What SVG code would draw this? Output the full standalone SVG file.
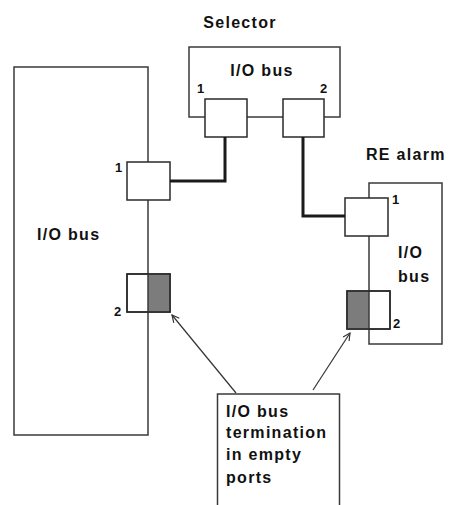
<svg xmlns="http://www.w3.org/2000/svg" width="449" height="505" viewBox="0 0 449 505">
<defs>
<style>
.box{fill:#fff;stroke:#3a3a3a;stroke-width:1.5}
.port{fill:#fff;stroke:#2a2a2a;stroke-width:1.5}
.shade{fill:#7c7c7c;stroke:none}
.bus{stroke:#3a3a3a;stroke-width:1.5;fill:none}
.wire{stroke:#1a1a1a;stroke-width:3;fill:none}
.arrow{stroke:#333;stroke-width:1.2;fill:none;marker-end:url(#head)}
.t{font-family:"Liberation Sans",Arial,sans-serif;font-weight:bold;font-size:16px;letter-spacing:1.3px;fill:#111}
.n{font-family:"Liberation Sans",Arial,sans-serif;font-weight:bold;font-size:13px;fill:#111}
</style>
<marker id="head" viewBox="0 0 10 10" refX="9" refY="5" markerWidth="9" markerHeight="9" orient="auto" markerUnits="userSpaceOnUse">
<polyline points="1,1 9,5 1,9" fill="none" stroke="#333" stroke-width="1.3"/>
</marker>
</defs>
<rect width="449" height="505" fill="#fff"/>

<g id="left-device">
<rect class="box" x="14" y="67" width="134" height="368"/>
<text class="t" x="37" y="240">I/O bus</text>
<g id="left-port1">
<rect class="port" x="127" y="162" width="43" height="38"/>
<text class="n" x="115" y="172">1</text>
</g>
<g id="left-port2">
<rect class="port" x="127" y="274" width="43" height="38"/>
<rect class="shade" x="148" y="275" width="21" height="36"/>
<line class="bus" x1="148" y1="274" x2="148" y2="312"/>
<rect x="127" y="274" width="43" height="38" fill="none" stroke="#2a2a2a" stroke-width="1.5"/>
<text class="n" x="114" y="316">2</text>
</g>
</g>

<g id="selector">
<text class="t" x="240" y="28" text-anchor="middle">Selector</text>
<rect class="box" x="189" y="47" width="151" height="70"/>
<text class="t" x="262" y="76" text-anchor="middle">I/O bus</text>
<g id="sel-port1">
<rect class="port" x="205" y="99" width="42" height="38"/>
<text class="n" x="197" y="93">1</text>
</g>
<g id="sel-port2">
<rect class="port" x="283" y="99" width="41" height="38"/>
<text class="n" x="320" y="93">2</text>
</g>
</g>

<g id="re-alarm">
<text class="t" x="366" y="160">RE alarm</text>
<rect class="box" x="369" y="183" width="73" height="161"/>
<text class="t" x="398" y="258">I/O</text>
<text class="t" x="398" y="282">bus</text>
<g id="re-port1">
<rect class="port" x="345" y="198" width="43" height="38"/>
<text class="n" x="392" y="204">1</text>
</g>
<g id="re-port2">
<rect class="port" x="347" y="291" width="43" height="38"/>
<rect class="shade" x="348" y="292" width="21" height="36"/>
<line class="bus" x1="369" y1="291" x2="369" y2="329"/>
<rect x="347" y="291" width="43" height="38" fill="none" stroke="#2a2a2a" stroke-width="1.5"/>
<text class="n" x="393" y="328">2</text>
</g>
</g>

<g id="callout">
<rect class="box" x="217.5" y="394" width="122" height="125"/>
<text class="t" x="226" y="417">I/O bus</text>
<text class="t" x="226" y="438">termination</text>
<text class="t" x="226" y="460">in empty</text>
<text class="t" x="226" y="483">ports</text>
</g>

<g id="connectors">
<polyline class="wire" points="225,137 225,181 170,181"/>
<polyline class="wire" points="303,137 303,216 345,216"/>
<line class="arrow" x1="236" y1="393" x2="172" y2="315"/>
<line class="arrow" x1="313" y1="390" x2="350" y2="333"/>
</g>
</svg>
